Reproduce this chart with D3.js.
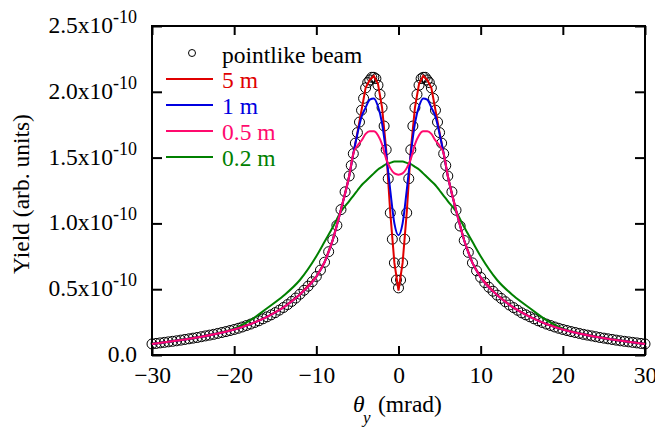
<!DOCTYPE html>
<html>
<head>
<meta charset="utf-8">
<script src="https://cdn.jsdelivr.net/npm/d3@7"></script>
<style>
  body { margin: 0; background: #fff; }
</style>
</head>
<body>
<div id="chart"></div>
<script>
// yield values are in units of 1e-10

// pointlike beam (open circles)
var thetaPts = [-30,-29.5,-29,-28.5,-28,-27.5,-27,-26.5,-26,-25.5,-25,-24.5,-24,-23.5,-23,-22.5,-22,-21.5,-21,-20.5,
  -20,-19.5,-19,-18.5,-18,-17.5,-17,-16.5,-16,-15.5,-15,-14.5,-14,-13.5,-13,-12.5,-12,-11.5,-11,-10.5,
  -10,-9.5,-9,-8.5,-8,-7.5,-7,-6.5,
  -6,-5.75,-5.5,-5.25,-5,-4.75,-4.5,-4.25,-4,-3.75,-3.5,-3.25,-3,-2.75,-2.5,-2.25,-2,-1.75,-1.5,-1.25,-1,-0.75,-0.5,-0.25,
  0,0.25,0.5,0.75,1,1.25,1.5,1.75,2,2.25,2.5,2.75,3,3.25,3.5,3.75,4,4.25,4.5,4.75,5,5.25,5.5,5.75,6,
  6.5,7,7.5,8,8.5,9,9.5,10,10.5,11,11.5,12,12.5,13,13.5,14,14.5,15,15.5,16,16.5,17,17.5,18,18.5,19,19.5,
  20,20.5,21,21.5,22,22.5,23,23.5,24,24.5,25,25.5,26,26.5,27,27.5,28,28.5,29,29.5,30];
var yieldPts = [0.084,0.088,0.092,0.096,0.100,0.104,0.108,0.113,0.118,0.123,0.128,0.133,0.139,0.145,0.151,0.157,0.164,0.171,0.178,0.186,
  0.194,0.203,0.213,0.224,0.235,0.247,0.260,0.275,0.290,0.305,0.322,0.341,0.361,0.383,0.407,0.433,0.462,0.492,0.523,0.557,
  0.597,0.645,0.705,0.785,0.875,0.985,1.105,1.240,
  1.36,1.44,1.53,1.61,1.69,1.77,1.86,1.95,2.03,2.07,2.09,2.11,2.11,2.10,2.05,1.98,1.88,1.74,1.56,1.34,1.08,0.88,0.70,0.57,
  0.51,0.57,0.70,0.88,1.08,1.34,1.56,1.74,1.88,1.98,2.05,2.10,2.11,2.11,2.09,2.07,2.03,1.95,1.86,1.77,1.69,1.61,1.53,1.44,1.36,
  1.24,1.10,0.98,0.87,0.78,0.70,0.64,0.59,0.55,0.515,0.485,0.455,0.43,0.405,0.38,0.36,0.34,0.32,0.305,0.29,0.275,0.26,0.247,0.235,0.224,0.213,0.203,
  0.194,0.186,0.178,0.171,0.164,0.157,0.151,0.145,0.139,0.133,0.128,0.123,0.118,0.113,0.108,0.104,0.100,0.096,0.092,0.088,0.084];

// finite source distances (lines)
var thetaLine = [-30,-28,-26,-24,-22,-20,-18,-16,-14,-12,-10,-9,-8,-7,-6,
  -5.5,-5,-4.5,-4,-3.5,-3,-2.5,-2,-1.5,-1,-0.5,0,0.5,1,1.5,2,2.5,3,3.5,4,4.5,5,5.5,
  6,7,8,9,10,12,14,16,18,20,22,24,26,28,30];
var y5m = [0.084,0.100,0.118,0.139,0.164,0.194,0.235,0.29,0.361,0.46,0.595,0.705,0.875,1.105,1.36,
  1.53,1.69,1.86,2.03,2.09,2.12,2.06,1.88,1.56,1.08,0.70,0.49,0.70,1.08,1.56,1.88,2.06,2.12,2.09,2.03,1.86,1.69,1.53,
  1.36,1.10,0.87,0.70,0.59,0.455,0.36,0.29,0.235,0.194,0.164,0.139,0.118,0.100,0.084];
var y1m = [0.084,0.100,0.118,0.139,0.164,0.194,0.235,0.29,0.361,0.46,0.595,0.705,0.875,1.105,1.36,
  1.53,1.68,1.81,1.88,1.94,1.95,1.89,1.76,1.53,1.25,1.00,0.91,1.00,1.25,1.53,1.76,1.89,1.95,1.94,1.88,1.81,1.68,1.53,
  1.36,1.10,0.87,0.70,0.59,0.455,0.36,0.29,0.235,0.194,0.164,0.139,0.118,0.100,0.084];
var y05m = [0.084,0.100,0.118,0.139,0.164,0.194,0.235,0.29,0.361,0.46,0.595,0.705,0.875,1.105,1.36,
  1.53,1.59,1.63,1.68,1.70,1.70,1.67,1.60,1.49,1.42,1.38,1.37,1.38,1.42,1.49,1.60,1.67,1.70,1.70,1.68,1.63,1.59,1.53,
  1.36,1.10,0.87,0.70,0.59,0.455,0.36,0.29,0.235,0.194,0.164,0.139,0.118,0.100,0.084];
var y02m = [0.085,0.101,0.119,0.140,0.166,0.20,0.265,0.355,0.45,0.57,0.75,0.86,0.97,1.09,1.17,
  1.21,1.25,1.29,1.32,1.35,1.38,1.41,1.43,1.45,1.46,1.47,1.47,1.47,1.46,1.45,1.43,1.41,1.38,1.35,1.32,1.29,1.25,1.21,
  1.17,1.09,0.97,0.86,0.75,0.57,0.45,0.355,0.265,0.20,0.166,0.140,0.119,0.101,0.085];

var xTicks = [-30, -20, -10, 0, 10, 20, 30];
var yTicks = [0, 0.5, 1.0, 1.5, 2.0, 2.5];
var yTickLabels = ["0.0", "0.5x10", "1.0x10", "1.5x10", "2.0x10", "2.5x10"];

var seriesNames = ["5 m", "1 m", "0.5 m", "0.2 m"];
var seriesColors = ["#e00000", "#0000e0", "#ff0a6e", "#008000"];
var seriesValues = [y5m, y1m, y05m, y02m];

var width = 655, height = 428;
var margin = { top: 26, right: 10, bottom: 73, left: 152 };
var serif = "'Liberation Serif', serif";

var svg = d3.select('#chart').append('svg')
    .attr('width', width).attr('height', height)
    .attr('font-family', serif);

var x = d3.scaleLinear().domain([-30, 30]).range([margin.left, width - margin.right]);
var y = d3.scaleLinear().domain([0, 2.5]).range([height - margin.bottom, margin.top]);

var fontSize = 23.5;

// axes with inward ticks
function styleAxis(g) {
    g.select('.domain').remove();
    g.selectAll('.tick line').attr('stroke', '#000').attr('stroke-width', 2);
    g.attr('font-family', serif).attr('font-size', fontSize);
    g.selectAll('.tick text').attr('fill', '#000');
}

svg.append('g').attr('transform', 'translate(0,' + y(0) + ')')
    .call(d3.axisBottom(x).tickValues(xTicks).tickSize(-9).tickPadding(11).tickFormat(d3.format('d')))
    .call(styleAxis);
svg.append('g').attr('transform', 'translate(0,' + y(2.5) + ')')
    .call(d3.axisTop(x).tickValues(xTicks).tickSize(-9).tickFormat(''))
    .call(styleAxis);
svg.append('g').attr('transform', 'translate(' + x(-30) + ',0)')
    .call(d3.axisLeft(y).tickValues(yTicks).tickSize(-10).tickPadding(15).tickFormat((d, i) => yTickLabels[i]))
    .call(styleAxis)
    .call(g => g.selectAll('.tick text').attr('dy', '0.28em').each(function(d, i) {
        if (i > 0) {
            d3.select(this).append('tspan').attr('dy', -10).attr('font-size', 18).text('-10');
        }
    }));
svg.append('g').attr('transform', 'translate(' + x(30) + ',0)')
    .call(d3.axisRight(y).tickValues(yTicks).tickSize(-10).tickFormat(''))
    .call(styleAxis);

// frame
svg.append('rect')
    .attr('x', x(-30)).attr('y', y(2.5))
    .attr('width', x(30) - x(-30)).attr('height', y(0) - y(2.5))
    .attr('fill', 'none').attr('stroke', '#000').attr('stroke-width', 2);

// pointlike beam circles
svg.append('g').selectAll('circle')
    .data(thetaPts)
    .enter()
    .append('circle')
    .attr('cx', d => x(d))
    .attr('cy', (d, i) => y(yieldPts[i]))
    .attr('r', 5)
    .attr('fill', 'none')
    .attr('stroke', '#000')
    .attr('stroke-width', 1);

// lines: green first, pink on top
var drawOrder = [3, 0, 1, 2];
drawOrder.forEach(function(s) {
    var line = d3.line()
        .x(d => x(d))
        .y((d, i) => y(seriesValues[s][i]))
        .curve(s === 0 ? d3.curveLinear : d3.curveMonotoneX);
    svg.append('path')
        .attr('d', line(thetaLine))
        .attr('fill', 'none')
        .attr('stroke', seriesColors[s])
        .attr('stroke-width', 2);
});

// legend
svg.append('circle').attr('cx', 192).attr('cy', 53).attr('r', 3.5)
    .attr('fill', 'none').attr('stroke', '#000').attr('stroke-width', 1);
svg.append('text').attr('x', 222).attr('y', 63).attr('font-size', fontSize).text('pointlike beam');
seriesNames.forEach(function(name, i) {
    var ly = 79 + i * 26;
    svg.append('line').attr('x1', 166).attr('x2', 213).attr('y1', ly).attr('y2', ly)
        .attr('stroke', seriesColors[i]).attr('stroke-width', 2);
    svg.append('text').attr('x', 222).attr('y', ly + 8.5).attr('font-size', fontSize)
        .attr('fill', seriesColors[i]).text(name);
});

// axis titles
svg.append('text')
    .attr('transform', 'translate(29,194) rotate(-90)')
    .attr('text-anchor', 'middle')
    .attr('font-size', fontSize)
    .text('Yield (arb. units)');

svg.append('text').attr('x', 353).attr('y', 412).attr('font-size', fontSize)
    .attr('font-style', 'italic').text('θ');
svg.append('text').attr('x', 363).attr('y', 423).attr('font-size', 17)
    .attr('font-style', 'italic').text('y');
svg.append('text').attr('x', 378).attr('y', 412).attr('font-size', fontSize).text('(mrad)');
</script>
</body>
</html>
